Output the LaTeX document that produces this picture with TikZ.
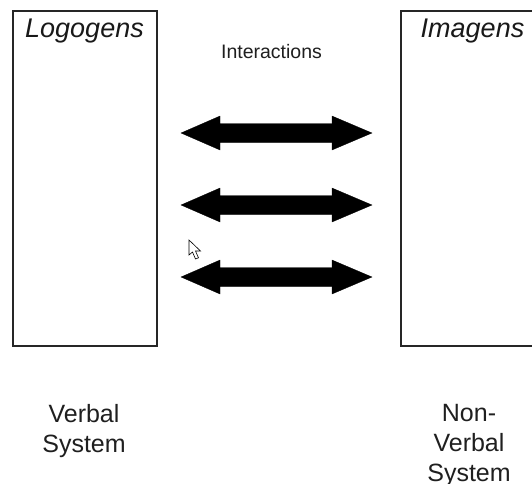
\documentclass[tikz,border=0pt]{standalone}
\usepackage{fontspec}
\setmainfont{Liberation Sans}
\begin{document}
\begin{tikzpicture}[x=1pt,y=-1pt,
  sysbox/.style={draw=black!85,line width=1.6pt,fill=none},
  title/.style={anchor=base,font=\fontsize{27}{32}\selectfont\itshape,text=black!90,inner sep=0},
  caption/.style={anchor=north,align=center,font=\fontsize{25}{30}\selectfont,text=black!88,inner sep=0},
  inter/.style={anchor=base,font=\fontsize{19.5}{23}\selectfont,text=black!88,inner sep=0},
  blockarrow/.style={fill=black,draw=black,line width=0.3pt},
  cursor/.style={fill=white,draw=black,line width=0.6pt,line join=miter}]
\useasboundingbox (0,0) rectangle (532,483);
\clip (0,0) rectangle (532,483);
\fill[white] (0,0) rectangle (532,483);
% boxes
\node[sysbox,minimum width=144pt,minimum height=335pt,inner sep=0] (verbal) at (85,178.5) {};
\node[sysbox,minimum width=144pt,minimum height=335pt,inner sep=0] (nonverbal) at (473,178.5) {};
% titles
\node[title] (logogens) at (84.5,37) {Logogens};
\node[title] (imagens) at (472.5,37) {Imagens};
\node[inter] (interactions) at (271.5,58) {Interactions};
% captions
\node[caption] (vcap) at (84,404.5) {Verbal\\System};
\node[caption] (nvcap) at (469,404.5) {Non-\\Verbal\\System};
% double block arrows
\foreach \yy [count=\i] in {133,205,277}{
  \coordinate (L\i) at (181,\yy);
  \coordinate (R\i) at (372,\yy);
  \fill[blockarrow] (L\i) -- ++(39,-17) -- ++(0,7.5) -- ++(112,0) -- ++(0,-7.5)
    -- (R\i) -- ++(-40,17) -- ++(0,-7.5) -- ++(-112,0) -- ++(0,7.5) -- cycle;
}
% mouse cursor
\draw[cursor] (189,240) -- (189,255) -- (192.5,252) -- (195.5,259) -- (198.5,257.8)
  -- (195.5,251) -- (200.5,251) -- cycle;
\end{tikzpicture}
\end{document}
